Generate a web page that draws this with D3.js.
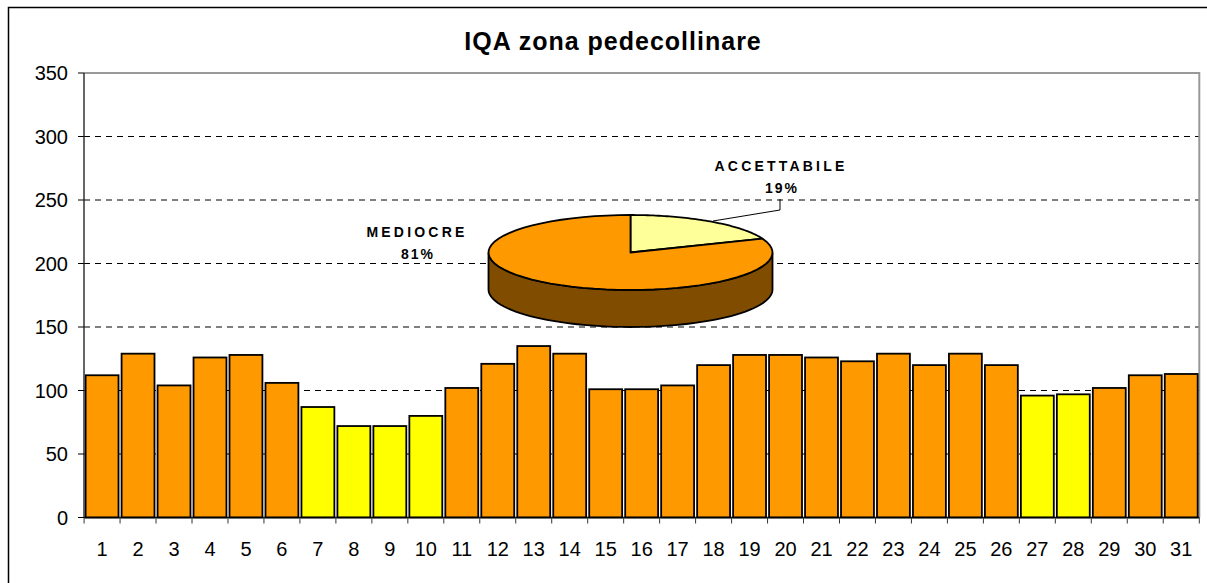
<!DOCTYPE html>
<html><head><meta charset="utf-8">
<script src="https://cdn.jsdelivr.net/npm/d3@7"></script>
<style>
html,body{margin:0;padding:0;background:#fff;}
svg{display:block;font-family:Arial,"Liberation Sans",sans-serif;}
</style></head>
<body>
<svg id="chart" width="1207" height="583"></svg>
<script>
// ---- data ----
const title = "IQA zona pedecollinare";
const days = d3.range(1, 32).map(String);
const iqaValues = [112,129,104,126,128,106,87,72,72,80,102,121,135,129,101,101,104,120,128,128,126,123,129,120,129,120,96,97,102,112,113];
const iqaClass = ["M","M","M","M","M","M","A","A","A","A","M","M","M","M","M","M","M","M","M","M","M","M","M","M","M","M","A","A","M","M","M"];
const yTicks = [0,50,100,150,200,250,300,350];
const pieLabels = ["ACCETTABILE","MEDIOCRE"];
const pieValues = [19,81];
const pieTexts = ["19%","81%"];

// ---- drawing ----
const svg = d3.select("#chart");
const pLeft = 84, pRight = 1199.3, pTop = 73, pBottom = 517.5;

// outer frame
svg.append("rect").attr("x",8.5).attr("y",7.5).attr("width",1400).attr("height",800)
  .attr("fill","none").attr("stroke","#000").attr("stroke-width",1.5);

svg.append("text").attr("x",613).attr("y",50).attr("text-anchor","middle")
  .attr("font-size",25).attr("font-weight","bold").attr("letter-spacing",1)
  .text(title);

const x = d3.scaleBand().domain(days).range([pLeft,pRight]).paddingInner(0.085).paddingOuter(0.045);
const y = d3.scaleLinear().domain([0,350]).range([pBottom,pTop]);

// gridlines
svg.append("g").selectAll("line").data(yTicks.filter(t=>t>0 && t<350)).join("line")
  .attr("x1",pLeft).attr("x2",pRight).attr("y1",d=>y(d)).attr("y2",d=>y(d))
  .attr("stroke","#000").attr("stroke-width",1).attr("stroke-dasharray","6,5");

// plot border top/right
svg.append("path").attr("d",`M${pLeft},${y(350)}H${pRight}V${pBottom}`)
  .attr("fill","none").attr("stroke","#999").attr("stroke-width",2);

// bars
const colors = {M:"#FF9900", A:"#FFFF00"};
svg.append("g").selectAll("rect").data(iqaValues).join("rect")
  .attr("x",(d,i)=>x(days[i]))
  .attr("width",x.bandwidth())
  .attr("y",d=>y(d))
  .attr("height",d=>y(0)-y(d))
  .attr("fill",(d,i)=>colors[iqaClass[i]])
  .attr("stroke","#000").attr("stroke-width",1.8);

// y axis
const yAxis = svg.append("g");
yAxis.append("line").attr("x1",pLeft).attr("x2",pLeft).attr("y1",pTop).attr("y2",pBottom)
  .attr("stroke","#333").attr("stroke-width",1.5);
yAxis.selectAll("line.t").data(yTicks).join("line").attr("class","t")
  .attr("x1",pLeft-6).attr("x2",pLeft).attr("y1",d=>y(d)).attr("y2",d=>y(d))
  .attr("stroke","#000").attr("stroke-width",1);
yAxis.selectAll("text").data(yTicks).join("text")
  .attr("x",68).attr("y",d=>y(d)+7).attr("text-anchor","end")
  .attr("font-size",20).text(d=>d);

// x axis
const xAxis = svg.append("g");
xAxis.append("line").attr("x1",pLeft).attr("x2",pRight).attr("y1",pBottom).attr("y2",pBottom)
  .attr("stroke","#000").attr("stroke-width",1.5);
const step = x.step();
const bounds = days.map(d=>x(d) - x.paddingInner()*step/2).concat([pRight]);
xAxis.selectAll("line.t").data(bounds).join("line").attr("class","t")
  .attr("x1",d=>d).attr("x2",d=>d).attr("y1",pBottom).attr("y2",pBottom+6)
  .attr("stroke","#333").attr("stroke-width",1);
xAxis.selectAll("text").data(days).join("text")
  .attr("x",d=>x(d)+x.bandwidth()/2).attr("y",556).attr("text-anchor","middle")
  .attr("font-size",20).text(d=>d);

// ---- 3D pie ----
const cx = 630.5, cy = 252.5, rx = 142, ry = 37.5, depth = 37;
const pie = d3.pie().sort(null).value(d=>d)(pieValues);
const pt = (a, dy=0) => [cx + rx*Math.sin(a), cy + dy - ry*Math.cos(a)];
const arcPts = (a0, a1, dy=0) => d3.range(0, 61).map(k => pt(a0 + (a1-a0)*k/60, dy));
const line = d3.line();
const pieFill = ["#FFFF99","#FF9900"];
const g = svg.append("g");
// side (front visible part, within MEDIOCRE slice)
const sA0 = Math.max(Math.PI/2, pie[1].startAngle), sA1 = Math.min(3*Math.PI/2, pie[1].endAngle);
const sidePts = arcPts(sA0, sA1).concat(arcPts(sA1, sA0, depth));
g.append("path").attr("d", line(sidePts) + "Z")
  .attr("fill","#7F4C00").attr("stroke","#000").attr("stroke-width",1.8);
// top faces
pie.forEach((p,i)=>{
  const pts = [[cx,cy]].concat(arcPts(p.startAngle, p.endAngle));
  g.append("path").attr("d", line(pts)+"Z")
    .attr("fill",pieFill[i]).attr("stroke","#000").attr("stroke-width",1.8).attr("stroke-linejoin","round");
});

// leader line for ACCETTABILE
svg.append("path").attr("d","M780,199V210L713,221").attr("fill","none")
  .attr("stroke","#000").attr("stroke-width",1);

// pie labels
const lab = svg.append("g").attr("font-weight","bold").attr("text-anchor","middle");
lab.append("text").attr("x",781).attr("y",171).attr("font-size",14).attr("letter-spacing",3.2).text(pieLabels[0]);
lab.append("text").attr("x",782).attr("y",193).attr("font-size",14).attr("letter-spacing",2).text(pieTexts[0]);
lab.append("text").attr("x",417).attr("y",237).attr("font-size",14).attr("letter-spacing",3.2).text(pieLabels[1]);
lab.append("text").attr("x",418).attr("y",259).attr("font-size",14).attr("letter-spacing",2).text(pieTexts[1]);
</script>
</body></html>
